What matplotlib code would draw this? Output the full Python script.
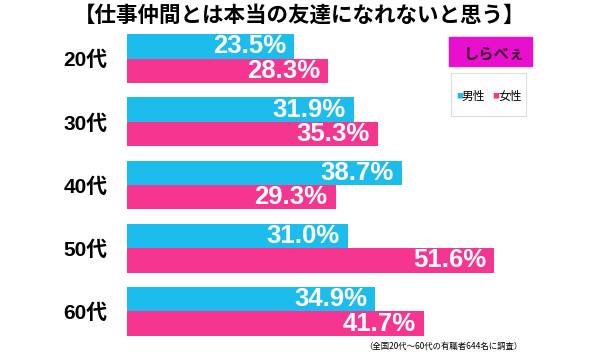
import matplotlib.pyplot as plt
from matplotlib.patches import Rectangle

plt.rcParams['font.family'] = ['Noto Sans CJK JP', 'DejaVu Sans']

ages = ["20代", "30代", "40代", "50代", "60代"]
male = [23.5, 31.9, 38.7, 31.0, 34.9]
female = [28.3, 35.3, 29.3, 51.6, 41.7]
series_names = ["男性", "女性"]
title = "【仕事仲間とは本当の友達になれないと思う】"
note = "（全国20代～60代の有職者644名に調査）"

blue = "#1CBCEC"
pink = "#F5358F"
num_font = ['Liberation Sans', 'Noto Sans CJK JP']

fig = plt.figure(figsize=(6, 3.52), dpi=100)
ax = fig.add_axes([127 / 600, 1 - 343 / 352, 427 / 600, 316 / 352])

h = 0.387
ys = list(range(len(ages)))
ax.barh([y - h / 2 for y in ys], male, height=h, color=blue)
ax.barh([y + h / 2 for y in ys], female, height=h, color=pink)

for y, m, f in zip(ys, male, female):
    for val, yy in ((m, y - h / 2), (f, y + h / 2)):
        ax.annotate(f"{val:.1f}%", (val, yy), xytext=(-6, 0),
                    textcoords="offset points", ha="right", va="center",
                    color="white", fontsize=18.5, fontweight="bold",
                    family=num_font)

ax.set_xlim(0, 60)
ax.set_ylim(4.5, -0.5)
ax.set_yticks(ys)
ax.set_yticklabels(ages, fontsize=15, fontweight="bold", family=num_font)
ax.tick_params(axis="y", length=0, pad=14)
ax.set_xticks([])
for s in ax.spines.values():
    s.set_visible(False)

fig.text(0.5, 1 - 15 / 352, title, ha="center", va="center",
         fontsize=15.5, fontweight="bold")
fig.text(522 / 600, 1 - 346 / 352, note, ha="right", va="center", fontsize=6)

# logo
fig.patches.append(Rectangle((449 / 600, 1 - 66 / 352), 83 / 600, 29 / 352,
                             transform=fig.transFigure, color="#E80FCF"))
fig.text(494 / 600, 1 - 53 / 352, "しらべぇ", ha="center", va="center",
         fontsize=11, fontweight="bold", color="#3A0A2A")

# legend
fig.patches.append(Rectangle((451 / 600, 1 - 116 / 352), 75 / 600, 43 / 352,
                             transform=fig.transFigure, fill=False,
                             edgecolor="#DDDDDD", lw=0.8))
fig.text(456 / 600, 1 - 96 / 352, "■", color=blue, fontsize=5, va="center")
fig.text(462 / 600, 1 - 96 / 352, series_names[0], fontsize=8.5, va="center")
fig.text(492 / 600, 1 - 96 / 352, "■", color=pink, fontsize=5, va="center")
fig.text(498 / 600, 1 - 96 / 352, series_names[1], fontsize=8.5, va="center")

fig.savefig("out.png", dpi=100)
